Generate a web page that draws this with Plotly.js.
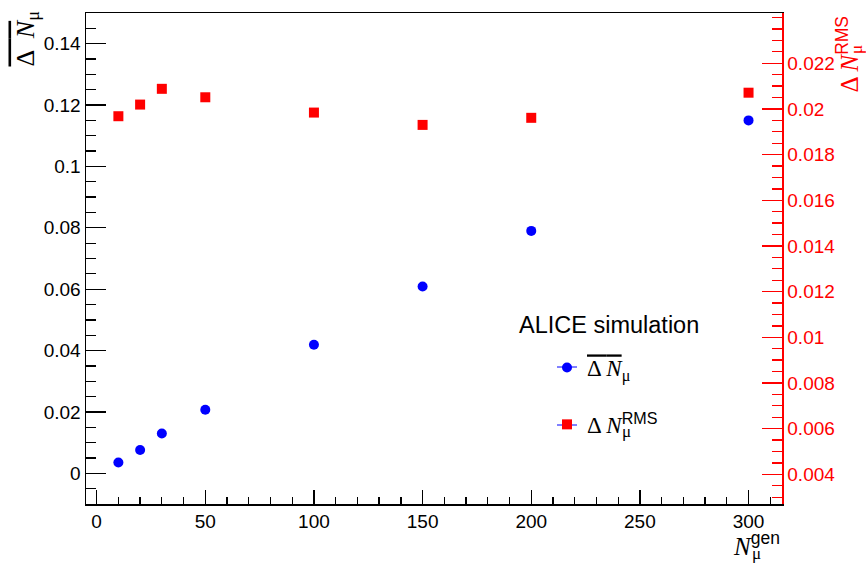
<!DOCTYPE html>
<html>
<head>
<meta charset="utf-8">
<script src="https://cdn.plot.ly/plotly-3.0.1.min.js"></script>
<style>html,body{margin:0;padding:0;background:#fff;}#chart{width:866px;height:563px;}</style>
</head>
<body>
<div id="chart"></div>
<script>
// ---- data ----
const nGen = [10, 20, 30, 50, 100, 150, 200, 300];
const meanDelta = [0.0035, 0.0076, 0.0130, 0.0207, 0.0419, 0.0609, 0.0790, 0.1150];
const rmsDelta = [0.01968, 0.02019, 0.02088, 0.02051, 0.01984, 0.01930, 0.01961, 0.02071];
const rightTicks = [0.004, 0.006, 0.008, 0.010, 0.012, 0.014, 0.016, 0.018, 0.020, 0.022];
const legendHeader = "ALICE simulation";
const meanName = '<span style="text-decoration:overline">Δ <i>N</i></span><sub>μ</sub>';
const rmsName = 'Δ <i>N</i><sup style="font-family:Liberation Sans">RMS</sup>';

const SERIF = "Liberation Serif, Times New Roman, serif";
const SANS = "Liberation Sans, Arial, Helvetica, sans-serif";

// pixel -> paper helpers (plot area: x 86..782, y 13..504)
const px = v => (v - 86) / 696;
const py = v => (504 - v) / 491;

const traces = [
  {x: nGen, y: meanDelta, type: "scatter", mode: "markers", name: meanName,
   legendgroup: "a", marker: {color: "#0000ff", size: 10, symbol: "circle"}, yaxis: "y"},
  {x: nGen, y: rmsDelta, type: "scatter", mode: "markers", name: rmsName,
   legendgroup: "b", marker: {color: "#ff0000", size: 10, symbol: "square"}, yaxis: "y2"}
];

const legLeft = 547, legTop = 346;

const layout = {
  width: 866, height: 563,
  margin: {l: 86, r: 84, t: 13, b: 59},
  paper_bgcolor: "#fff", plot_bgcolor: "#fff",
  font: {family: SANS, size: 19, color: "#000"},
  showlegend: true,
  legend: {x: px(legLeft), y: py(legTop), xanchor: "left", yanchor: "top",
           bgcolor: "rgba(0,0,0,0)", font: {family: SERIF, size: 23, color: "#000"},
           traceorder: "grouped", tracegroupgap: 24},
  xaxis: {range: [-4.9, 315.4], tick0: 0, dtick: 50, ticks: "inside", ticklen: 14, tickwidth: 1.3,
          tickcolor: "#000", showline: true, linecolor: "#000", linewidth: 1.5, mirror: true,
          showgrid: false, zeroline: false, tickfont: {family: SANS, size: 19},
          minor: {dtick: 10, ticks: "inside", ticklen: 7, tickwidth: 1.3, tickcolor: "#000", showgrid: false}},
  yaxis: {range: [-0.01, 0.15], tick0: 0, dtick: 0.02, ticks: "inside", ticklen: 20, tickwidth: 1.3,
          tickcolor: "#000", showline: true, linecolor: "#000", linewidth: 1.5,
          showgrid: false, zeroline: false, tickfont: {family: SANS, size: 19},
          minor: {dtick: 0.005, ticks: "inside", ticklen: 10, tickwidth: 1.3, tickcolor: "#000", showgrid: false}},
  yaxis2: {overlaying: "y", side: "right", range: [0.0027, 0.0242], tickmode: "array", tickvals: rightTicks,
           ticks: "inside", ticklen: 20, tickwidth: 1.3, tickcolor: "#ff0000",
           showline: true, linecolor: "#ff0000", linewidth: 1.5, showgrid: false, zeroline: false,
           tickfont: {family: SANS, size: 19, color: "#ff0000"},
           minor: {tick0: 0, dtick: 0.0005, ticks: "inside", ticklen: 10, tickwidth: 1.3, tickcolor: "#ff0000", showgrid: false}},
  shapes: [
    {type: "line", xref: "paper", yref: "paper", x0: px(legLeft + 10), x1: px(legLeft + 30),
     y0: py(367), y1: py(367), line: {color: "#0000ff", width: 1}},
    {type: "line", xref: "paper", yref: "paper", x0: px(legLeft + 10), x1: px(legLeft + 30),
     y0: py(425), y1: py(425), line: {color: "#0000ff", width: 1}}
  ],
  annotations: [
    {text: legendHeader, xref: "paper", yref: "paper", x: px(609), y: py(325),
     xanchor: "center", yanchor: "middle", showarrow: false, font: {family: SANS, size: 23.5, color: "#000"}},
    // legend entry 2: stacked subscript
    {text: "μ", xref: "paper", yref: "paper", x: px(626), y: py(431), xanchor: "center", yanchor: "middle",
     showarrow: false, font: {family: SERIF, size: 17, color: "#000"}},
    // left y title
    {text: '<span style="text-decoration:overline">Δ  <i>N</i></span><sub>μ</sub>', textangle: -90,
     xref: "paper", yref: "paper", x: px(26), y: py(9), xanchor: "center", yanchor: "top",
     showarrow: false, font: {family: SERIF, size: 26, color: "#000"}},
    // right y title
    {text: 'Δ <i>N</i><sup style="font-family:Liberation Sans">RMS</sup>', textangle: -90,
     xref: "paper", yref: "paper", x: px(847), y: py(14), xanchor: "center", yanchor: "top",
     showarrow: false, font: {family: SERIF, size: 25, color: "#ff0000"}},
    {text: "μ", textangle: -90, xref: "paper", yref: "paper", x: px(857), y: py(50),
     xanchor: "center", yanchor: "middle", showarrow: false, font: {family: SERIF, size: 17, color: "#ff0000"}},
    // x title
    {text: '<i>N</i><sup style="font-family:Liberation Sans">gen</sup>',
     xref: "paper", yref: "paper", x: 1, y: py(562), xanchor: "right", yanchor: "bottom",
     showarrow: false, font: {family: SERIF, size: 25, color: "#000"}},
    {text: "μ", xref: "paper", yref: "paper", x: px(756), y: py(553), xanchor: "center", yanchor: "middle",
     showarrow: false, font: {family: SERIF, size: 17, color: "#000"}}
  ]
};

Plotly.newPlot("chart", traces, layout, {displayModeBar: false, staticPlot: true});
</script>
</body>
</html>
